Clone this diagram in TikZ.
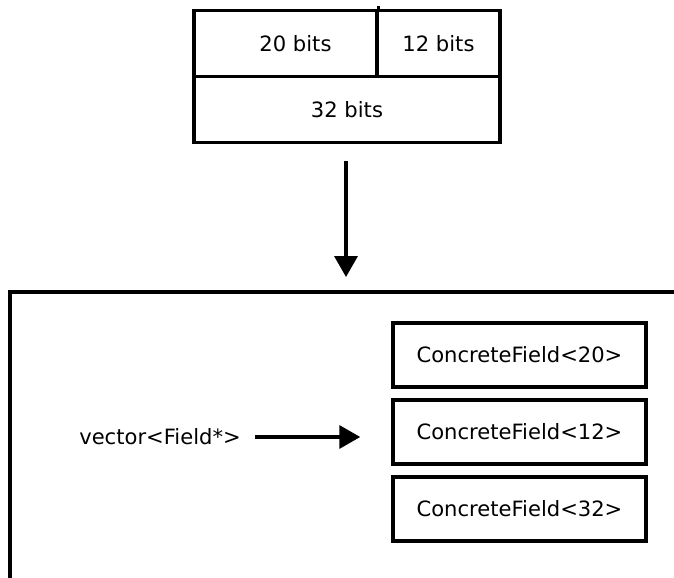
\documentclass[tikz,border=0pt]{standalone}
\usepackage{fontspec}
\setmainfont{DejaVu Sans}
\usetikzlibrary{positioning,arrows.meta}
\tikzset{
  >={Triangle[length=4.2mm,width=4.6mm]},
  cell/.style={draw,line width=2pt,inner sep=0pt,font=\fontsize{12}{14}\selectfont},
  fieldbox/.style={cell,minimum width=5.06cm,minimum height=1.28cm},
  frame/.style={line width=2pt},
  flow/.style={->,line width=2pt},
}
\begin{document}
\begin{tikzpicture}[x=0.02cm,y=-0.02cm,node distance=1.9mm]
    \useasboundingbox (0,0) rectangle (674,578);
    % packed word
    \node[cell,minimum width=3.66cm,minimum height=1.32cm] (b20) at (285.5,43.5) {\hspace{4mm}20 bits};
    \node[cell,minimum width=2.46cm,minimum height=1.32cm] (b12) at (438.5,43.5) {12 bits};
    \node[cell,minimum width=6.12cm,minimum height=1.32cm] (b32) at (347,109.5) {32 bits};
    \draw[frame] (b20.north east) -- ++(0,-3);
    % container
    \coordinate (top) at (346,292);
    \draw[frame] (10,578) |- (674,292);
    \draw[flow] ([xshift=-0.02cm,yshift=-3.4mm]b32.south) -- ([yshift=3mm]top);
    % fields
    \node[fieldbox] (f20) at (519.5,355) {ConcreteField<20>};
    \node[fieldbox,below=of f20] (f12) {ConcreteField<12>};
    \node[fieldbox,below=of f12] (f32) {ConcreteField<32>};
    \node[font=\fontsize{12}{14}\selectfont] (vec) at (160,437) {vector<Field*>};
    \draw[flow,shorten <=1.6mm,shorten >=6.2mm] (vec.east) -- (vec.east -| f12.west);
\end{tikzpicture}
\end{document}
